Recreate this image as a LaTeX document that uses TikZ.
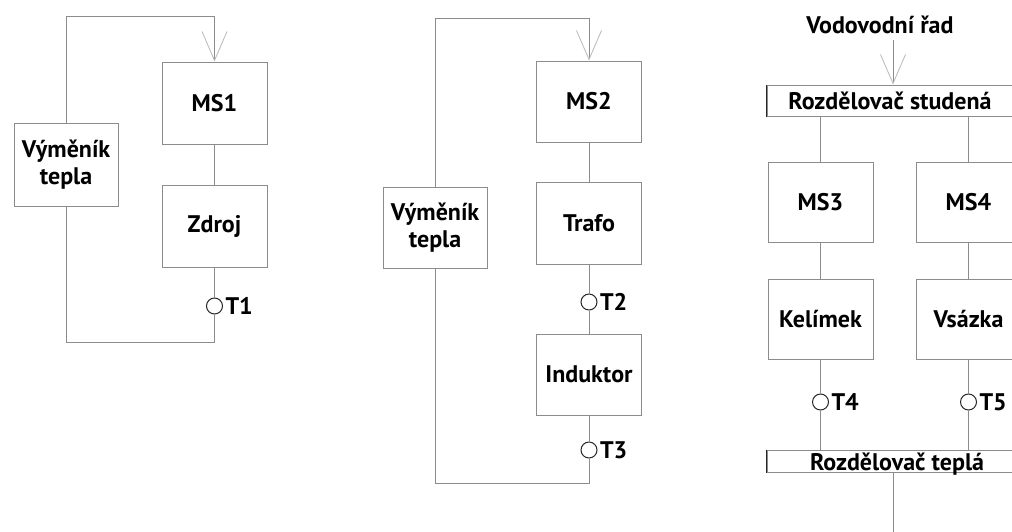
\documentclass[tikz,border=0pt]{standalone}
\usepackage{fontspec}
\setmainfont{PT Sans}
\usetikzlibrary{arrows.meta}

\definecolor{linegray}{gray}{0.55}
\definecolor{tipgray}{gray}{0.72}
\definecolor{ringgray}{gray}{0.15}

\tikzset{
  blok/.style={draw=linegray, line width=1pt, minimum width=105pt, minimum height=82pt,
    inner sep=0pt, align=center, font=\bfseries\fontsize{24}{27}\selectfont},
  lista/.style={draw=linegray, line width=1pt, inner sep=0pt, minimum width=246pt,
    font=\bfseries\fontsize{24}{24}\selectfont},
  teplomer/.style={circle, draw=ringgray, line width=1pt, fill=white, minimum size=16pt, inner sep=0pt,
    label={[font=\bfseries\fontsize{24}{24}\selectfont, label distance=-1pt]right:#1}},
  vedeni/.style={draw=linegray, line width=1pt},
  sipka/.style={vedeni, -{Straight Barb[length=29pt, width=25pt, line width=0.8pt, color=tipgray]}}
}

\begin{document}
\begin{tikzpicture}[x=1pt, y=-1pt]
		\useasboundingbox (0,0) rectangle (1012,531);
		\clip (0,0) rectangle (1012,531);
		
		% Okruh 1
		\node[blok] (ms1) at (214.5,103) {MS1};
		\node[blok] (zdroj) at (214.5,226.5) {Zdroj};
		\node[blok, minimum width=104pt, minimum height=83pt] (vym1) at (66,164.5) {Výměník\\tepla};
		\node[teplomer=T1] (t1) at (214.5,306) {};
		\coordinate (top1) at (214.5,16);
		\coordinate (bot1) at (66,342);
		\draw[vedeni] (ms1) -- (zdroj);
		\draw[vedeni] (zdroj) -- (t1);
		\draw[vedeni] (t1) |- (bot1) -- (vym1);
		\draw[sipka] (vym1) |- (top1) -- (ms1);
		
		% Okruh 2
		\node[blok, minimum height=81pt] (ms2) at (589,101.5) {MS2};
		\node[blok] (trafo) at (589,223) {Trafo};
		\node[blok, minimum height=81pt] (ind) at (589,374.5) {Induktor};
		\node[blok, minimum width=104pt, minimum height=81pt] (vym2) at (435,227.5) {Výměník\\tepla};
		\node[teplomer=T2] (t2) at (589,302) {};
		\node[teplomer=T3] (t3) at (589,450) {};
		\coordinate (top2) at (589,18);
		\coordinate (bot2) at (435,483);
		\draw[vedeni] (ms2) -- (trafo);
		\draw[vedeni] (trafo) -- (t2);
		\draw[vedeni] (t2) -- (ind);
		\draw[vedeni] (ind) -- (t3);
		\draw[vedeni] (t3) |- (bot2) -- (vym2);
		\draw[sipka] (vym2) |- (top2) -- (ms2);
		
		% Okruh 3 -- rozdelovace
		\node[font=\bfseries\fontsize{24}{24}\selectfont] (vodo) at (880,25) {Vodovodní řad};
		\node[lista, text height=24pt, text depth=7pt] (stud) at (890,100.5) {Rozdělovač studená};
		\node[lista, minimum width=260pt, text height=20pt, text depth=2pt] (tepl) at (897,461) {Rozdělovač teplá};
		\draw[ringgray, line width=1.3pt] (stud.north west) -- (stud.south west);
		\draw[ringgray, line width=1.3pt] (tepl.north west) -- (tepl.south west);
		\coordinate (vstup) at (893,40);
		\coordinate (vystup) at (893,540);
		\draw[sipka] (vstup) -- (vstup |- stud.north);
		\draw[vedeni] (tepl.south -| vystup) -- (vystup);
		
		\node[blok, minimum height=80pt] (ms3) at (820.5,202) {MS3};
		\node[blok, minimum height=80pt] (ms4) at (968.5,202) {MS4};
		\node[blok, minimum height=80pt] (kel) at (820.5,319) {Kelímek};
		\node[blok, minimum height=80pt] (vsa) at (968.5,319) {Vsázka};
		\node[teplomer=T4] (t4) at (820.5,402) {};
		\node[teplomer=T5] (t5) at (968.5,402) {};
		\draw[vedeni] (stud.south -| ms3) -- (ms3);
		\draw[vedeni] (stud.south -| ms4) -- (ms4);
		\draw[vedeni] (ms3) -- (kel);
		\draw[vedeni] (ms4) -- (vsa);
		\draw[vedeni] (kel) -- (t4);
		\draw[vedeni] (vsa) -- (t5);
		\draw[vedeni] (t4) -- (t4 |- tepl.north);
		\draw[vedeni] (t5) -- (t5 |- tepl.north);
\end{tikzpicture}
\end{document}
